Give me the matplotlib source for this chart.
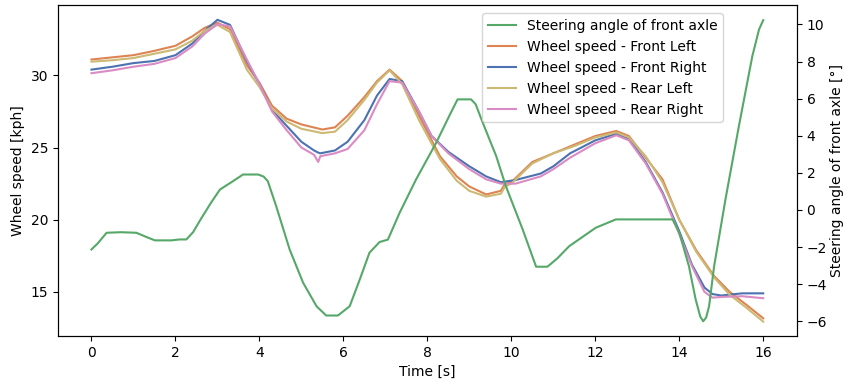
import matplotlib
matplotlib.use("Agg")
import matplotlib.pyplot as plt

# seaborn "deep" colours
c_green = "#55A868"
c_orange = "#DD8452"
c_blue = "#4C72B0"
c_gold = "#CCB974"
c_pink = "#DA8BC3"

# Steering angle of front axle [deg]
t_steer = [0, 0.15, 0.36, 0.7, 1.07, 1.3, 1.51, 1.9, 2.1, 2.26, 2.42, 2.6, 2.85, 3.06, 3.37,
           3.61, 3.97, 4.1, 4.2, 4.4, 4.72, 5.04, 5.36, 5.59, 5.87, 6.15, 6.39, 6.62, 6.86,
           7.06, 7.34, 7.73, 8.21, 8.55, 8.72, 9.04, 9.15, 9.32, 9.64, 9.87, 10.27, 10.59,
           10.86, 11.1, 11.38, 12.01, 12.49, 13.84, 14.0, 14.23, 14.39, 14.5, 14.57, 14.64,
           14.71, 14.83, 15.1, 15.42, 15.74, 15.9, 16.0]
steer = [-2.13, -1.8, -1.23, -1.2, -1.23, -1.45, -1.64, -1.64, -1.59, -1.59, -1.2, -0.51,
         0.4, 1.1, 1.55, 1.91, 1.91, 1.8, 1.55, 0.2, -2.13, -3.92, -5.19, -5.69, -5.69,
         -5.19, -3.75, -2.31, -1.73, -1.6, -0.15, 1.64, 3.62, 5.2, 5.96, 5.96, 5.7, 4.7, 2.9,
         1.28, -1.05, -3.06, -3.06, -2.6, -1.95, -0.96, -0.51, -0.51, -1.22, -3.03, -4.82,
         -5.75, -6.0, -5.8, -5.19, -3.03, 0.57, 4.52, 8.29, 9.73, 10.23]

# Wheel speeds [kph]
t_left = [0, 0.5, 1.0, 1.5, 2.0, 2.4, 2.7, 3.0, 3.3, 3.7, 4.0, 4.3, 4.65, 5.0, 5.5, 5.8,
          6.1, 6.5, 6.8, 7.1, 7.4, 7.8, 8.3, 8.7, 9.0, 9.4, 9.75, 9.85, 10.0, 10.5, 11.0,
          11.5, 12.0, 12.5, 12.8, 13.2, 13.6, 14.0, 14.4, 14.83, 15.2, 15.6, 16.0]
front_left = [31.1, 31.25, 31.4, 31.7, 32.05, 32.7, 33.3, 33.65, 33.2, 30.7, 29.5, 27.9,
              27.0, 26.6, 26.25, 26.4, 27.2, 28.5, 29.6, 30.4, 29.6, 27.2, 24.4, 23.0,
              22.3, 21.75, 22.0, 22.5, 22.6, 24.0, 24.6, 25.2, 25.8, 26.15, 25.8, 24.3,
              22.8, 20.0, 17.9, 16.1, 15.0, 14.1, 13.17]
rear_left = [30.95, 31.05, 31.2, 31.5, 31.8, 32.4, 33.1, 33.5, 33.0, 30.4, 29.2, 27.7,
             26.8, 26.3, 26.0, 26.1, 26.9, 28.3, 29.5, 30.35, 29.4, 26.9, 24.2, 22.7,
             22.0, 21.6, 21.8, 22.3, 22.5, 23.9, 24.6, 25.1, 25.7, 26.05, 25.7, 24.4,
             22.6, 20.0, 17.8, 16.0, 14.8, 13.9, 12.94]

t_right = [0, 0.5, 1.0, 1.5, 2.0, 2.4, 2.7, 3.0, 3.3, 3.7, 4.0, 4.3, 4.65, 5.0, 5.3, 5.4,
           5.45, 5.8, 6.1, 6.5, 6.8, 7.1, 7.4, 7.8, 8.1, 8.5, 9.0, 9.4, 9.75, 10.1, 10.7,
           11.0, 11.4, 12.0, 12.5, 12.8, 13.2, 13.6, 14.0, 14.3, 14.6, 14.79, 15.0, 15.5, 16.0]
front_right = [30.4, 30.6, 30.85, 31.0, 31.4, 32.2, 33.1, 33.85, 33.5, 31.0, 29.4, 27.6,
               26.5, 25.4, 24.8, 24.65, 24.6, 24.8, 25.4, 26.9, 28.6, 29.75, 29.6, 27.5,
               25.8, 24.7, 23.7, 23.0, 22.6, 22.75, 23.2, 23.7, 24.6, 25.5, 25.95, 25.6,
               24.0, 21.9, 19.2, 16.9, 15.3, 14.85, 14.75, 14.9, 14.9]
rear_right = [30.15, 30.35, 30.6, 30.8, 31.2, 32.0, 32.9, 33.55, 33.4, 31.1, 29.4, 27.5,
              26.2, 25.0, 24.5, 24.0, 24.4, 24.6, 24.9, 26.2, 28.0, 29.6, 29.5, 27.5,
              25.8, 24.6, 23.5, 22.8, 22.5, 22.5, 23.0, 23.5, 24.3, 25.3, 25.85, 25.5,
              23.9, 21.8, 19.0, 16.8, 15.0, 14.6, 14.65, 14.7, 14.56]

fig, ax = plt.subplots(figsize=(8.45, 3.8), dpi=100)
ax2 = ax.twinx()

l0, = ax2.plot(t_steer, steer, color=c_green, lw=1.5, label="Steering angle of front axle")
l1, = ax.plot(t_left, front_left, color=c_orange, lw=1.5, label="Wheel speed - Front Left")
l2, = ax.plot(t_right, front_right, color=c_blue, lw=1.5, label="Wheel speed - Front Right")
l3, = ax.plot(t_left, rear_left, color=c_gold, lw=1.5, label="Wheel speed - Rear Left")
l4, = ax.plot(t_right, rear_right, color=c_pink, lw=1.5, label="Wheel speed - Rear Right")

ax.set_xlim(-0.8, 16.8)
ax.set_ylim(11.95, 34.88)
ax2.set_ylim(-6.79, 11.05)
ax.set_xticks(range(0, 17, 2))
ax.set_yticks([15, 20, 25, 30])
ax2.set_yticks([-6, -4, -2, 0, 2, 4, 6, 8, 10])

ax.set_xlabel("Time [s]")
ax.set_ylabel("Wheel speed [kph]")
ax2.set_ylabel("Steering angle of front axle [°]", labelpad=2)

ax2.legend(handles=[l0, l1, l2, l3, l4], loc="upper right",
           bbox_to_anchor=(0.9, 0.975), borderaxespad=0)

fig.subplots_adjust(left=0.0685, right=0.943, top=0.987, bottom=0.116)
fig.savefig("out.png")
